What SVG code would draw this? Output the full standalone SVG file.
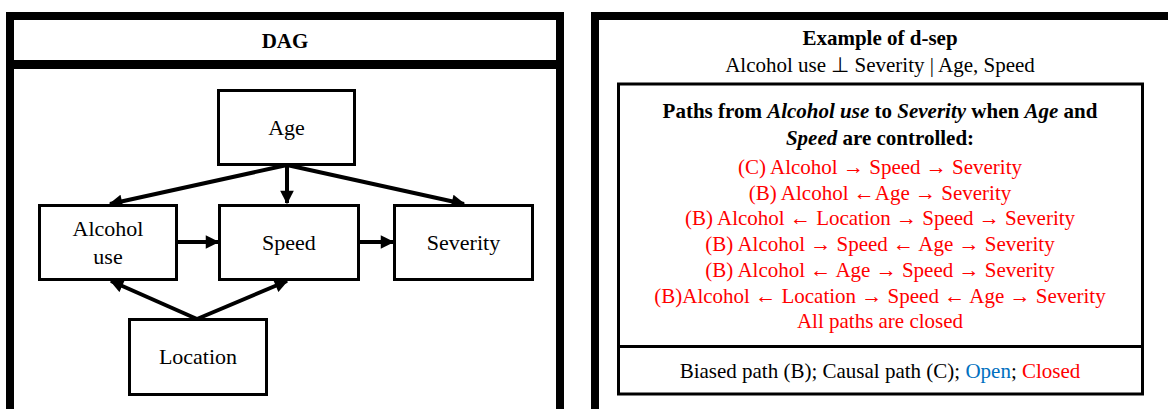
<svg xmlns="http://www.w3.org/2000/svg" width="1168" height="409" viewBox="0 0 1168 409">
  <defs>
    <marker id="head" viewBox="0 0 10 10" refX="9" refY="5" markerWidth="3.6" markerHeight="3.4" orient="auto" markerUnits="strokeWidth">
      <path d="M0,0 L10,5 L0,10 Z" fill="#000"/>
    </marker>
  </defs>
  <rect width="1168" height="409" fill="#fff"/>

  <!-- Left panel: DAG -->
  <g id="dag-panel">
    <rect x="10" y="16" width="550" height="420" fill="#fff" stroke="#000" stroke-width="8"/>
    <line x1="6" y1="64.5" x2="564" y2="64.5" stroke="#000" stroke-width="9"/>
    <text font-family="serif" font-size="21" font-weight="bold" text-anchor="middle" x="285" y="48">DAG</text>
  </g>

  <g id="edges" stroke="#000" stroke-width="4" fill="none" marker-end="url(#head)">
    <line x1="287" y1="165" x2="110" y2="204"/>
    <line x1="287" y1="165" x2="287" y2="203"/>
    <line x1="287" y1="165" x2="464" y2="204"/>
    <line x1="177" y1="242" x2="218" y2="242"/>
    <line x1="359" y1="242" x2="393" y2="242"/>
    <line x1="197" y1="319" x2="111" y2="281"/>
    <line x1="197" y1="319" x2="287" y2="281"/>
  </g>

  <g id="age">
    <rect x="218.5" y="90.5" width="136" height="74" fill="#fff" stroke="#000" stroke-width="3"/>
    <text font-family="serif" font-size="22" text-anchor="middle" x="286.5" y="135">Age</text>
  </g>
  <g id="alcohol">
    <rect x="39.5" y="205.5" width="137" height="74" fill="#fff" stroke="#000" stroke-width="3"/>
    <text font-family="serif" font-size="22" text-anchor="middle" x="108" y="236">Alcohol</text>
    <text font-family="serif" font-size="22" text-anchor="middle" x="108" y="264">use</text>
  </g>
  <g id="speed">
    <rect x="219.5" y="205.5" width="139" height="74" fill="#fff" stroke="#000" stroke-width="3"/>
    <text font-family="serif" font-size="22" text-anchor="middle" x="289" y="250">Speed</text>
  </g>
  <g id="severity">
    <rect x="394.5" y="205.5" width="138" height="74" fill="#fff" stroke="#000" stroke-width="3"/>
    <text font-family="serif" font-size="22" text-anchor="middle" x="463.5" y="250">Severity</text>
  </g>
  <g id="location">
    <rect x="129.5" y="319.5" width="137" height="75" fill="#fff" stroke="#000" stroke-width="3"/>
    <text font-family="serif" font-size="22" text-anchor="middle" x="198" y="364">Location</text>
  </g>

  <!-- Right panel: d-separation example -->
  <g id="dsep-panel">
    <rect x="595" y="16" width="577" height="420" fill="#fff" stroke="#000" stroke-width="8"/>
    <text font-family="serif" font-size="21" font-weight="bold" text-anchor="middle" x="880" y="45">Example of d-sep</text>
    <text font-family="serif" font-size="21" text-anchor="middle" x="880" y="72">Alcohol use ⊥ Severity | Age, Speed</text>
  </g>

  <g id="paths-box">
    <rect x="618.5" y="84" width="524" height="310" fill="#fff" stroke="#000" stroke-width="3"/>
    <line x1="618.5" y1="346.5" x2="1142.5" y2="346.5" stroke="#000" stroke-width="3"/>
    <text font-family="serif" font-size="21" font-weight="bold" text-anchor="middle" x="880" y="118">Paths from <tspan font-style="italic">Alcohol use</tspan> to <tspan font-style="italic">Severity</tspan> when <tspan font-style="italic">Age</tspan> and</text>
    <text font-family="serif" font-size="21" font-weight="bold" text-anchor="middle" x="880" y="145"><tspan font-style="italic">Speed</tspan> are controlled:</text>
    <g fill="#ff0000">
      <text font-family="serif" font-size="21" text-anchor="middle" x="880" y="174">(C) Alcohol → Speed → Severity</text>
      <text font-family="serif" font-size="21" text-anchor="middle" x="880" y="200">(B) Alcohol ←Age → Severity</text>
      <text font-family="serif" font-size="21" text-anchor="middle" x="880" y="225">(B) Alcohol ← Location → Speed → Severity</text>
      <text font-family="serif" font-size="21" text-anchor="middle" x="880" y="251">(B) Alcohol → Speed ← Age → Severity</text>
      <text font-family="serif" font-size="21" text-anchor="middle" x="880" y="277">(B) Alcohol ← Age → Speed → Severity</text>
      <text font-family="serif" font-size="21" text-anchor="middle" x="880" y="303">(B)Alcohol ← Location → Speed ← Age → Severity</text>
      <text font-family="serif" font-size="21" text-anchor="middle" x="880" y="328">All paths are closed</text>
    </g>
    <text font-family="serif" font-size="21" text-anchor="middle" x="880" y="378">Biased path (B); Causal path (C); <tspan fill="#0070c0">Open</tspan>; <tspan fill="#ff0000">Closed</tspan></text>
  </g>
</svg>
